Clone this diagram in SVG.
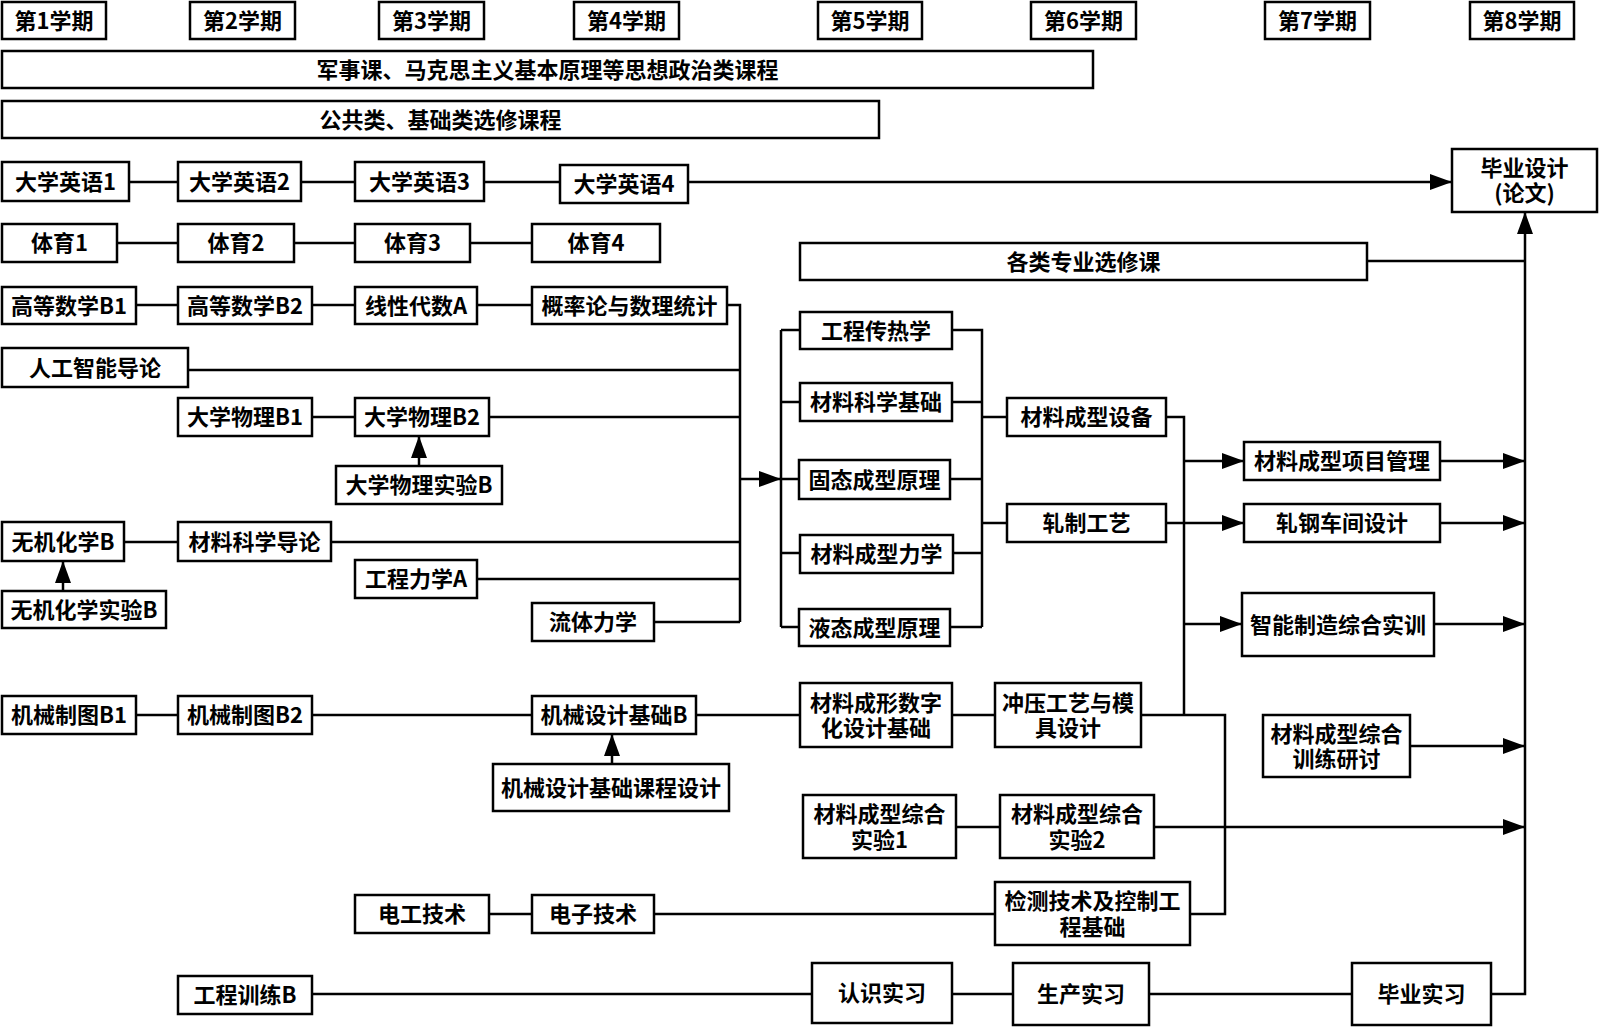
<svg xmlns="http://www.w3.org/2000/svg" width="1600" height="1027" viewBox="0 0 1600 1027">
<style>
.b{fill:#fff;stroke:#000;stroke-width:2.5}
.t{font-family:"Noto Sans CJK SC","Noto Sans",sans-serif;font-size:22px;font-weight:bold;text-anchor:middle;fill:#000}
.l{fill:none;stroke:#000;stroke-width:2.5}
</style>
<defs>
<marker id="ah" markerUnits="userSpaceOnUse" markerWidth="22" markerHeight="16" refX="22" refY="8" orient="auto"><path d="M0,0 L22,8 L0,16 z" fill="#000"/></marker>
</defs>
<rect width="1600" height="1027" fill="#fff"/>
<g id="connectors">
<path class="l" d="M129,182 H178 M301,182 H355 M484,182 H560"/>
<path class="l" d="M688,182 H1452" marker-end="url(#ah)"/>
<path class="l" d="M117,243 H178 M294,243 H355 M470,243 H532"/>
<path class="l" d="M136,305 H178 M312,305 H355 M477,305 H532"/>
<path class="l" d="M727,305 H740 V622 M188,370 H740 M312,417 H355 M489,417 H740 M124,542 H178 M331,542 H740 M477,579 H740 M654,622 H740"/>
<path class="l" d="M419,466 V436" marker-end="url(#ah)"/>
<path class="l" d="M63,591 V561" marker-end="url(#ah)"/>
<path class="l" d="M740,479 H781" marker-end="url(#ah)"/>
<path class="l" d="M781,330 V627 M781,330 H800 M781,402 H800 M781,479 H799 M781,553 H800 M781,627 H799"/>
<path class="l" d="M952,330 H982 V627 M952,402 H982 M950,479 H982 M953,553 H982 M950,627 H982 M982,417 H1007 M982,523 H1007"/>
<path class="l" d="M1166,417 H1184 V715"/>
<path class="l" d="M1184,461 H1244" marker-end="url(#ah)"/>
<path class="l" d="M1166,523 H1244" marker-end="url(#ah)"/>
<path class="l" d="M1184,624 H1242" marker-end="url(#ah)"/>
<path class="l" d="M1440,461 H1525" marker-end="url(#ah)"/>
<path class="l" d="M1440,523 H1525" marker-end="url(#ah)"/>
<path class="l" d="M1434,624 H1525" marker-end="url(#ah)"/>
<path class="l" d="M1410,746 H1525" marker-end="url(#ah)"/>
<path class="l" d="M1154,827 H1525" marker-end="url(#ah)"/>
<path class="l" d="M1367,261 H1525"/>
<path class="l" d="M1491,994 H1525 V212" marker-end="url(#ah)"/>
<path class="l" d="M136,715 H178 M312,715 H532 M696,715 H800 M952,715 H995 M1141,715 H1225 V914 H1190"/>
<path class="l" d="M612,764 V734" marker-end="url(#ah)"/>
<path class="l" d="M956,827 H1000"/>
<path class="l" d="M489,914 H532 M654,914 H995"/>
<path class="l" d="M312,994 H812 M952,994 H1013 M1149,994 H1352"/>
</g>
<g id="n-s1"><rect class="b" x="2" y="2" width="104" height="37"/><text class="t" x="54" y="28.5">第1学期</text></g>
<g id="n-s2"><rect class="b" x="190" y="2" width="105" height="37"/><text class="t" x="242.5" y="28.5">第2学期</text></g>
<g id="n-s3"><rect class="b" x="379" y="2" width="105" height="37"/><text class="t" x="431.5" y="28.5">第3学期</text></g>
<g id="n-s4"><rect class="b" x="574" y="2" width="105" height="37"/><text class="t" x="626.5" y="28.5">第4学期</text></g>
<g id="n-s5"><rect class="b" x="818" y="2" width="104" height="37"/><text class="t" x="870" y="28.5">第5学期</text></g>
<g id="n-s6"><rect class="b" x="1031" y="2" width="105" height="37"/><text class="t" x="1083.5" y="28.5">第6学期</text></g>
<g id="n-s7"><rect class="b" x="1265" y="2" width="105" height="37"/><text class="t" x="1317.5" y="28.5">第7学期</text></g>
<g id="n-s8"><rect class="b" x="1470" y="2" width="104" height="37"/><text class="t" x="1522" y="28.5">第8学期</text></g>
<g id="n-mil"><rect class="b" x="2" y="51" width="1091" height="37"/><text class="t" x="547.5" y="77.5">军事课、马克思主义基本原理等思想政治类课程</text></g>
<g id="n-pub"><rect class="b" x="2" y="101" width="877" height="37"/><text class="t" x="440.5" y="127.5">公共类、基础类选修课程</text></g>
<g id="n-en1"><rect class="b" x="2" y="162" width="127" height="39"/><text class="t" x="65.5" y="189.5">大学英语1</text></g>
<g id="n-en2"><rect class="b" x="178" y="162" width="123" height="39"/><text class="t" x="239.5" y="189.5">大学英语2</text></g>
<g id="n-en3"><rect class="b" x="355" y="162" width="129" height="39"/><text class="t" x="419.5" y="189.5">大学英语3</text></g>
<g id="n-en4"><rect class="b" x="560" y="165" width="128" height="38"/><text class="t" x="624" y="192">大学英语4</text></g>
<g id="n-thesis"><rect class="b" x="1452" y="149" width="145" height="63"/><text class="t" x="1524.5" y="175.5">毕业设计<tspan x="1524.5" dy="25.5">(论文)</tspan></text></g>
<g id="n-pe1"><rect class="b" x="2" y="224" width="115" height="38"/><text class="t" x="59.5" y="251">体育1</text></g>
<g id="n-pe2"><rect class="b" x="178" y="224" width="116" height="38"/><text class="t" x="236" y="251">体育2</text></g>
<g id="n-pe3"><rect class="b" x="355" y="224" width="115" height="38"/><text class="t" x="412.5" y="251">体育3</text></g>
<g id="n-pe4"><rect class="b" x="532" y="224" width="128" height="38"/><text class="t" x="596" y="251">体育4</text></g>
<g id="n-elec"><rect class="b" x="800" y="243" width="567" height="37"/><text class="t" x="1083.5" y="269.5">各类专业选修课</text></g>
<g id="n-m1"><rect class="b" x="2" y="287" width="134" height="37"/><text class="t" x="69" y="313.5">高等数学B1</text></g>
<g id="n-m2"><rect class="b" x="178" y="287" width="134" height="37"/><text class="t" x="245" y="313.5">高等数学B2</text></g>
<g id="n-la"><rect class="b" x="355" y="287" width="122" height="37"/><text class="t" x="416" y="313.5">线性代数A</text></g>
<g id="n-prob"><rect class="b" x="532" y="287" width="195" height="37"/><text class="t" x="629.5" y="313.5">概率论与数理统计</text></g>
<g id="n-ai"><rect class="b" x="2" y="348" width="186" height="39"/><text class="t" x="95" y="375.5">人工智能导论</text></g>
<g id="n-ph1"><rect class="b" x="178" y="398" width="134" height="38"/><text class="t" x="245" y="425">大学物理B1</text></g>
<g id="n-ph2"><rect class="b" x="355" y="398" width="134" height="38"/><text class="t" x="422" y="425">大学物理B2</text></g>
<g id="n-phx"><rect class="b" x="336" y="466" width="166" height="38"/><text class="t" x="419" y="493">大学物理实验B</text></g>
<g id="n-ch"><rect class="b" x="2" y="522" width="122" height="39"/><text class="t" x="63" y="549.5">无机化学B</text></g>
<g id="n-msi"><rect class="b" x="178" y="522" width="153" height="39"/><text class="t" x="254.5" y="549.5">材料科学导论</text></g>
<g id="n-chx"><rect class="b" x="2" y="591" width="164" height="37"/><text class="t" x="84" y="617.5">无机化学实验B</text></g>
<g id="n-em"><rect class="b" x="355" y="560" width="122" height="38"/><text class="t" x="416" y="587">工程力学A</text></g>
<g id="n-fm"><rect class="b" x="532" y="603" width="122" height="38"/><text class="t" x="593" y="630">流体力学</text></g>
<g id="n-ht"><rect class="b" x="800" y="312" width="152" height="37"/><text class="t" x="876" y="338.5">工程传热学</text></g>
<g id="n-msf"><rect class="b" x="800" y="383" width="152" height="38"/><text class="t" x="876" y="410">材料科学基础</text></g>
<g id="n-sf"><rect class="b" x="799" y="460" width="151" height="39"/><text class="t" x="874.5" y="487.5">固态成型原理</text></g>
<g id="n-fmech"><rect class="b" x="800" y="535" width="153" height="38"/><text class="t" x="876.5" y="562">材料成型力学</text></g>
<g id="n-lf"><rect class="b" x="799" y="609" width="151" height="37"/><text class="t" x="874.5" y="635.5">液态成型原理</text></g>
<g id="n-eq"><rect class="b" x="1007" y="398" width="159" height="38"/><text class="t" x="1086.5" y="425">材料成型设备</text></g>
<g id="n-roll"><rect class="b" x="1007" y="504" width="159" height="38"/><text class="t" x="1086.5" y="531">轧制工艺</text></g>
<g id="n-pm"><rect class="b" x="1244" y="442" width="196" height="38"/><text class="t" x="1342" y="469">材料成型项目管理</text></g>
<g id="n-mill"><rect class="b" x="1244" y="504" width="196" height="38"/><text class="t" x="1342" y="531">轧钢车间设计</text></g>
<g id="n-im"><rect class="b" x="1242" y="593" width="192" height="63"/><text class="t" x="1338" y="632.5">智能制造综合实训</text></g>
<g id="n-dig"><rect class="b" x="800" y="683" width="152" height="64"/><text class="t" x="876" y="710.5">材料成形数字<tspan x="876" dy="25.5">化设计基础</tspan></text></g>
<g id="n-stamp"><rect class="b" x="995" y="683" width="146" height="64"/><text class="t" x="1068" y="710.5">冲压工艺与模<tspan x="1068" dy="25.5">具设计</tspan></text></g>
<g id="n-sem"><rect class="b" x="1263" y="715" width="147" height="62"/><text class="t" x="1336.5" y="741.5">材料成型综合<tspan x="1336.5" dy="25.5">训练研讨</tspan></text></g>
<g id="n-ex1"><rect class="b" x="803" y="795" width="153" height="63"/><text class="t" x="879.5" y="822">材料成型综合<tspan x="879.5" dy="25.5">实验1</tspan></text></g>
<g id="n-ex2"><rect class="b" x="1000" y="795" width="154" height="63"/><text class="t" x="1077" y="822">材料成型综合<tspan x="1077" dy="25.5">实验2</tspan></text></g>
<g id="n-det"><rect class="b" x="995" y="882" width="195" height="63"/><text class="t" x="1092.5" y="909">检测技术及控制工<tspan x="1092.5" dy="25.5">程基础</tspan></text></g>
<g id="n-in1"><rect class="b" x="812" y="963" width="140" height="60"/><text class="t" x="882" y="1001">认识实习</text></g>
<g id="n-in2"><rect class="b" x="1013" y="963" width="136" height="62"/><text class="t" x="1081" y="1002">生产实习</text></g>
<g id="n-in3"><rect class="b" x="1352" y="963" width="139" height="62"/><text class="t" x="1421.5" y="1002">毕业实习</text></g>
<g id="n-md1"><rect class="b" x="2" y="696" width="134" height="38"/><text class="t" x="69" y="723">机械制图B1</text></g>
<g id="n-md2"><rect class="b" x="178" y="696" width="134" height="38"/><text class="t" x="245" y="723">机械制图B2</text></g>
<g id="n-mdb"><rect class="b" x="532" y="696" width="164" height="38"/><text class="t" x="614" y="723">机械设计基础B</text></g>
<g id="n-mdc"><rect class="b" x="493" y="764" width="236" height="47"/><text class="t" x="611" y="795.5">机械设计基础课程设计</text></g>
<g id="n-et"><rect class="b" x="355" y="895" width="134" height="38"/><text class="t" x="422" y="922">电工技术</text></g>
<g id="n-el"><rect class="b" x="532" y="895" width="122" height="38"/><text class="t" x="593" y="922">电子技术</text></g>
<g id="n-tr"><rect class="b" x="178" y="976" width="134" height="38"/><text class="t" x="245" y="1003">工程训练B</text></g>
</svg>
